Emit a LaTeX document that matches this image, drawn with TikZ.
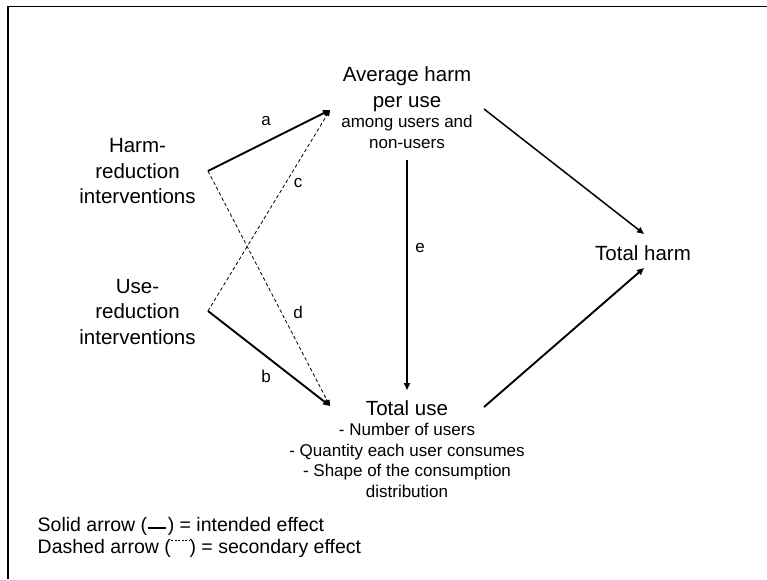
\documentclass[tikz,border=0pt]{standalone}
\usepackage{fontspec}
\setmainfont{Liberation Sans}
\usetikzlibrary{arrows.meta}
\begin{document}
\begin{tikzpicture}[x=1pt,y=-1pt,
  bigtext/.style={font=\fontsize{20.5}{25.5}\selectfont, align=center, inner sep=0pt},
  smalltext/.style={font=\fontsize{17}{20.5}\selectfont, align=center, inner sep=0pt},
  lbl/.style={font=\fontsize{17}{20}\selectfont, inner sep=0pt},
  legendtext/.style={font=\fontsize{19.5}{22}\selectfont, align=left, inner sep=0pt, anchor=north west},
  solidarrow/.style={line width=1.9pt, -{Triangle[length=7pt,width=6pt]}},
  thinarrow/.style={line width=1.5pt, -{Triangle[length=7pt,width=6pt]}},
  dasharrow/.style={line width=0.8pt, dash pattern=on 3.5pt off 2.5pt, -{Triangle[length=6pt,width=5pt]}}]
\useasboundingbox (0,0) rectangle (767,579);
\fill[white] (0,0) rectangle (767,579);
% frame (top and left edges visible)
\draw[line width=1.8pt] (767,6.5) -- (8,6.5) -- (8,579);

% nodes
\node[bigtext] (hr) at (137.5,171.5) {Harm-\\reduction\\interventions};
\node[bigtext] (ur) at (137.5,312) {Use-\\reduction\\interventions};
\node[bigtext] (avg) at (407,89) {Average harm\\per use};
\node[smalltext, anchor=north] (avgsub) at (407,115) {among users and\\non-users};
\node[bigtext] (th) at (643,253) {Total harm};
\node[bigtext] (tu) at (407,408) {Total use};
\node[smalltext, anchor=north] (tusub) at (407,423) {- Number of users\\- Quantity each user consumes\\- Shape of the consumption\\distribution};

% connector ports
\coordinate (hrOut) at (208,171);
\coordinate (urOut) at (208,311);
\coordinate (avgIn) at (330,110);
\coordinate (avgOut) at (484,109);
\coordinate (avgBot) at (407,160);
\coordinate (tuIn) at (330,406);
\coordinate (tuTop) at (407,390);
\coordinate (tuOut) at (484,407);
\coordinate (thInA) at (644,234);
\coordinate (thInB) at (644,268);

% connectors
\draw[solidarrow] (hrOut) -- (avgIn);
\draw[solidarrow] (urOut) -- (tuIn);
\draw[dasharrow] (urOut) -- (avgIn);
\draw[dasharrow] (hrOut) -- (tuIn);
\draw[thinarrow] (avgBot) -- (tuTop);
\draw[thinarrow] (avgOut) -- (thInA);
\draw[solidarrow] (tuOut) -- (thInB);

% labels
\node[lbl] (la) at (266,121) {a};
\node[lbl] (lc) at (298,183) {c};
\node[lbl] (le) at (420,248) {e};
\node[lbl] (ld) at (298,312) {d};
\node[lbl] (lb) at (266,376) {b};

% legend
\node[legendtext] (leg) at (37.5,517) {Solid arrow (\tikz[baseline=0pt]\draw[line width=2.6pt] (0,-3.5) -- (18,-3.5);) = intended effect\\
Dashed arrow (\tikz[baseline=0pt]\draw[line width=0.6pt, dash pattern=on 2pt off 1.5pt] (0,-13) -- (18,-13);) = secondary effect};
\end{tikzpicture}
\end{document}
